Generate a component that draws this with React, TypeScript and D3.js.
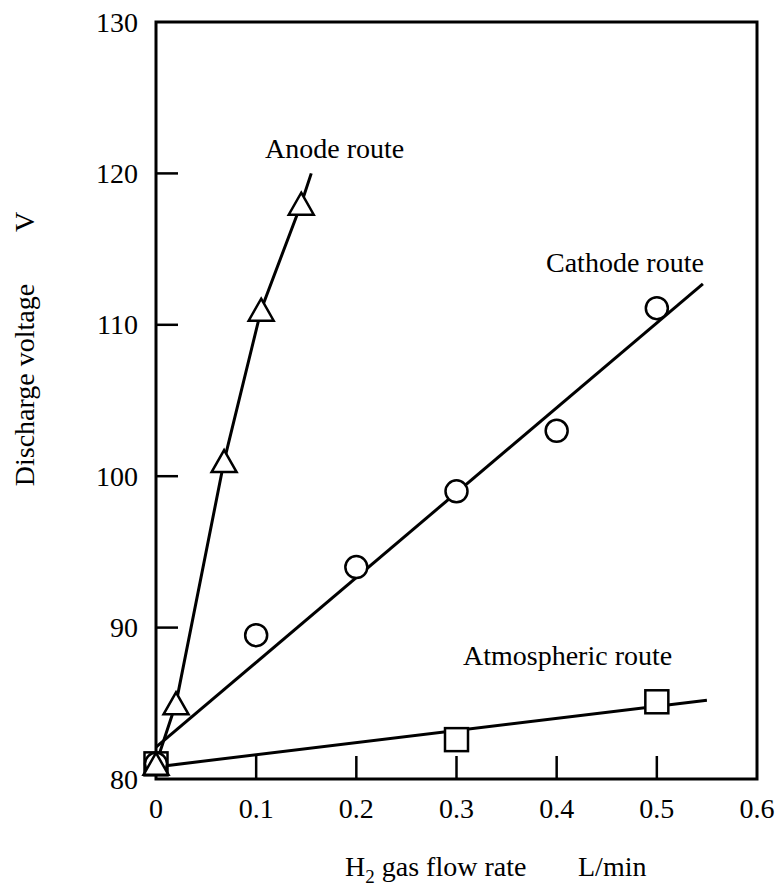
import React from "react";
import * as d3 from "d3";

const xTicks = [0, 0.1, 0.2, 0.3, 0.4, 0.5, 0.6];
const xTickLabels = ["0", "0.1", "0.2", "0.3", "0.4", "0.5", "0.6"];
const yTicks = [80, 90, 100, 110, 120, 130];

const anodeX = [0, 0.02, 0.068, 0.105, 0.145];
const anodeY = [81, 85, 101, 111, 118];
const anodeLineX = [0, 0.02, 0.068, 0.105, 0.145, 0.155];
const anodeLineY = [81, 85, 101, 111, 118, 120];

const cathodeX = [0, 0.1, 0.2, 0.3, 0.4, 0.5];
const cathodeY = [81, 89.5, 94, 99, 103, 111.1];
const cathodeLineX = [0, 0.546];
const cathodeLineY = [82.1, 112.7];

const atmosX = [0, 0.3, 0.5];
const atmosY = [81, 82.6, 85.1];
const atmosLineX = [0, 0.55];
const atmosLineY = [80.8, 85.2];

export default function App() {
  const W = 782, H = 890;
  const x = d3.scaleLinear().domain([0, 0.6]).range([156, 757]);
  const y = d3.scaleLinear().domain([80, 130]).range([779, 22]);
  const line = d3.line<[number, number]>().x(d => x(d[0])).y(d => y(d[1]));
  const font = "Liberation Serif, DejaVu Serif, Times New Roman, serif";
  const ts = { fontFamily: font, fontSize: 28 } as React.CSSProperties;
  const zip = (a: number[], b: number[]) => a.map((v, i) => [v, b[i]] as [number, number]);
  const tri = (cx: number, cy: number) => {
    const w = 12.5, h = 11;
    return `M${cx},${cy - h} L${cx + w},${cy + h} L${cx - w},${cy + h} Z`;
  };
  return (
    <svg width={W} height={H} style={{ position: "absolute", left: 0, top: 0, background: "#fff" }}>
      <rect x={0} y={0} width={W} height={H} fill="#fff" />
      <rect x={x(0)} y={y(130)} width={x(0.6) - x(0)} height={y(80) - y(130)} fill="none" stroke="#000" strokeWidth={3} />
      {xTicks.slice(1, -1).map(t => (
        <line key={"xt" + t} x1={x(t)} x2={x(t)} y1={y(80)} y2={y(80) - 23} stroke="#000" strokeWidth={2.5} />
      ))}
      {xTicks.map((t, i) => (
        <text key={"xl" + t} x={x(t)} y={818} textAnchor="middle" style={ts} fill="#000">{xTickLabels[i]}</text>
      ))}
      {yTicks.slice(1, -1).map(t => (
        <line key={"yt" + t} x1={x(0)} x2={x(0) + 22} y1={y(t)} y2={y(t)} stroke="#000" strokeWidth={2.5} />
      ))}
      {yTicks.map(t => (
        <text key={"yl" + t} x={138} y={y(t) + 9.5} textAnchor="end" style={ts} fill="#000">{t}</text>
      ))}
      <text transform={`translate(34,385) rotate(-90)`} textAnchor="middle" style={ts} fill="#000">Discharge voltage</text>
      <text transform={`translate(34,222) rotate(-90)`} textAnchor="middle" style={ts} fill="#000">V</text>
      <text x={345} y={876} style={ts} fill="#000">
        H<tspan style={{ fontSize: 19 }} dy={7}>2</tspan><tspan dy={-7}> gas flow rate</tspan>
      </text>
      <text x={578} y={876} style={ts} fill="#000">L/min</text>
      <path d={line(zip(anodeLineX, anodeLineY)) || ""} fill="none" stroke="#000" strokeWidth={3} />
      <path d={line(zip(cathodeLineX, cathodeLineY)) || ""} fill="none" stroke="#000" strokeWidth={3} />
      <path d={line(zip(atmosLineX, atmosLineY)) || ""} fill="none" stroke="#000" strokeWidth={3} />
      {atmosX.map((v, i) => (
        <rect key={"s" + i} x={x(v) - 11.5} y={y(atmosY[i]) - 11.5} width={23} height={23} fill="#fff" stroke="#000" strokeWidth={2.5} />
      ))}
      {cathodeX.map((v, i) => (
        <circle key={"c" + i} cx={x(v)} cy={y(cathodeY[i])} r={11} fill="#fff" stroke="#000" strokeWidth={2.5} />
      ))}
      {anodeX.map((v, i) => (
        <path key={"t" + i} d={tri(x(v), y(anodeY[i]))} fill="#fff" stroke="#000" strokeWidth={2.5} />
      ))}
      <text x={265} y={158} style={ts} fill="#000">Anode route</text>
      <text x={546} y={272} style={ts} fill="#000">Cathode route</text>
      <text x={463} y={665} style={ts} fill="#000">Atmospheric route</text>
    </svg>
  );
}
